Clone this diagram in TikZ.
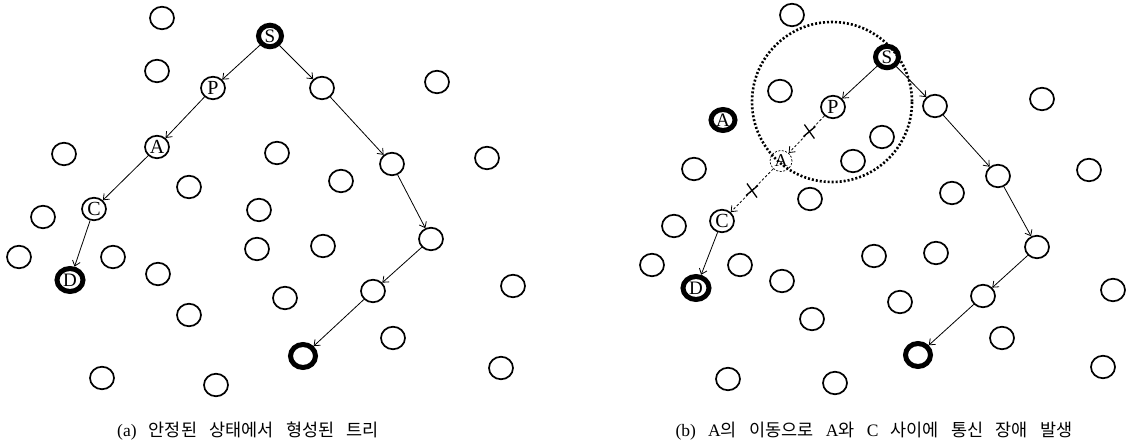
\documentclass[tikz,border=0pt]{standalone}
\usepackage{fontspec}
\setmainfont{Liberation Serif}
\newfontfamily\krfont{Noto Sans CJK KR}
\usetikzlibrary{shapes.geometric,arrows.meta}
\newcommand\wgap{\hspace{0.7em}}
\begin{document}
\begin{tikzpicture}[x=1pt,y=-1pt,
  nd/.style={ellipse,draw,line width=1.7pt,minimum width=24pt,minimum height=22.5pt,inner sep=0pt,
             font=\fontsize{20}{20}\selectfont},
  thk/.style={ellipse,draw,line width=5pt,minimum width=23pt,minimum height=21.5pt,inner sep=0pt,
             font=\fontsize{19}{19}\selectfont},
  ghost/.style={ellipse,draw,line width=0.7pt,dash pattern=on 2pt off 1.5pt,minimum width=22pt,
             minimum height=21pt,inner sep=0pt,font=\fontsize{18}{18}\selectfont},
  link/.style={line width=0.8pt,-{Straight Barb[length=5pt,width=8pt]}},
  brokenlink/.style={link,dash pattern=on 2.5pt off 2pt},
  reachzone/.style={line width=2.6pt,dash pattern=on 2pt off 2pt},
  captxt/.style={font=\fontsize{17.5}{17.5}\selectfont,inner sep=0pt},
  cutmark/.pic={\draw[line width=1.3pt] (-5,-7) -- (5,7) (-6,5) -- (6,-5);}
]
\useasboundingbox (0,0) rectangle (1136,446);

% ---------------- (a) stable tree ----------------
\foreach \p [count=\i] in {(162,18),(157,71),(437,82),(64,154),(277,153),(487,158),
    (189,187),(341,181),(43,217),(259,210),(19,257),(113,257),(257,249),(323,246),
    (158,274),(285,298),(513,286),(189,315),(393,338),(501,368),(102,378),(216,385)}
  \node[nd] (ao\i) at \p {};

\node[thk] (aS) at (270,36) {S};
\node[nd]  (aP) at (213,88) {P};
\node[nd]  (aA) at (157,147) {A};
\node[nd]  (aC) at (94,209) {C};
\node[thk,minimum width=26pt,minimum height=23pt] (aD) at (70,280) {D};
\node[nd]  (a1) at (322,88) {};
\node[nd]  (a2) at (392,164) {};
\node[nd]  (a3) at (431,239) {};
\node[nd]  (a4) at (373,291) {};
\node[thk,minimum width=25pt,minimum height=23pt] (aT) at (303,356) {};

\draw[link] (aS) -- (aP);
\draw[link] (aP) -- (aA);
\draw[link] (aA) -- (aC);
\draw[link] (aC) -- (aD);
\draw[link] (aS) -- (a1);
\draw[link] (a1) -- (a2);
\draw[link] (a2) -- (a3);
\draw[link] (a3) -- (a4);
\draw[link] (a4) -- (aT);

\node[captxt] (capa) at (248,431) {(a)\wgap{\krfont 안정된\wgap 상태에서\wgap 형성된\wgap 트리}};

% ---------------- (b) A moves away ----------------
\draw[reachzone] (832,102) circle[radius=80];

\foreach \p [count=\i] in {(792,15),(780,91),(1042,99),(694,169),(853,161),(882,137),
    (1089,170),(952,193),(810,199),(674,226),(652,265),(740,265),(782,281),(812,319),
    (874,256),(936,253),(900,302),(1113,290),(1002,338),(1103,367),(728,379),(835,383)}
  \node[nd] (bo\i) at \p {};

\node[thk] (bS) at (887,57) {S};
\node[nd]  (bP) at (833,107) {P};
\node[thk,minimum width=24pt,minimum height=21pt] (bAnew) at (723,120) {A};
\node[ghost] (bA) at (781,161) {A};
\node[nd]  (bC) at (722,221) {C};
\node[thk,minimum width=26pt,minimum height=23pt] (bD) at (696,288) {D};
\node[nd]  (b1) at (935,106) {};
\node[nd]  (b2) at (998,176) {};
\node[nd]  (b3) at (1037,247) {};
\node[nd]  (b4) at (983,296) {};
\node[thk,minimum width=25pt,minimum height=23pt] (bT) at (918,355) {};

\draw[link] (bS) -- (bP);
\draw[brokenlink] (bP) -- (bA) coordinate[pos=.42] (cut1);
\draw[brokenlink] (bA) -- (bC) coordinate[pos=.5] (cut2);
\draw[link] (bC) -- (bD);
\draw[link] (bS) -- (b1);
\draw[link] (b1) -- (b2);
\draw[link] (b2) -- (b3);
\draw[link] (b3) -- (b4);
\draw[link] (b4) -- (bT);
\pic at (cut1) {cutmark};
\pic at (cut2) {cutmark};

\node[captxt] (capb) at (874,431) {(b)\wgap A{\krfont 의}\wgap{\krfont 이동으로}\wgap A{\krfont 와}\wgap C\wgap{\krfont 사이에\wgap 통신\wgap 장애\wgap 발생}};
\end{tikzpicture}
\end{document}
